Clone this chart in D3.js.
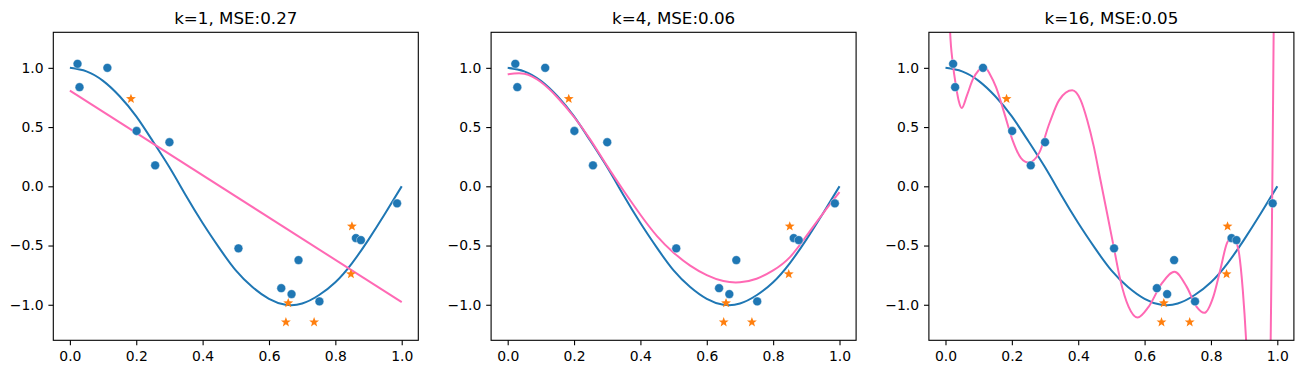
<!DOCTYPE html>
<meta charset="utf-8">
<style>

body {
  margin: 0;
  background: #fff;
}

.axis text {
  font: 13.9px "DejaVu Sans", sans-serif;
  fill: #000;
}

.axis line {
  stroke: #000;
  stroke-width: 1.1px;
}

.axis path {
  display: none;
}

.frame {
  fill: none;
  stroke: #000;
  stroke-width: 1.1px;
}

.title {
  font: 16.7px "DejaVu Sans", sans-serif;
  fill: #000;
}

.truth {
  fill: none;
  stroke: #1f77b4;
  stroke-width: 2px;
}

.fit {
  fill: none;
  stroke: #ff69b4;
  stroke-width: 2px;
}

</style>
<body>

<script src="https://d3js.org/d3.v7.min.js"></script>
<script>

// training points (blue dots)
var trainX = [0.023, 0.029, 0.113, 0.201, 0.257, 0.300, 0.508, 0.637, 0.668, 0.689, 0.752, 0.862, 0.877, 0.986];
var trainY = [1.034, 0.837, 1.000, 0.467, 0.177, 0.372, -0.524, -0.860, -0.910, -0.623, -0.972, -0.437, -0.454, -0.144];

// test points (orange stars)
var testX = [0.184, 0.850, 0.847, 0.658, 0.651, 0.736];
var testY = [0.738, -0.338, -0.741, -0.986, -1.147, -1.147];

// the true curve, read every 0.05
var gridX = [0, 0.05, 0.1, 0.15, 0.2, 0.25, 0.3, 0.35, 0.4, 0.45, 0.5, 0.55, 0.6, 0.65, 0.7, 0.75, 0.8, 0.85, 0.9, 0.95, 1];
var trueY = [1.00, 0.97, 0.89, 0.76, 0.59, 0.38, 0.16, -0.08, -0.31, -0.52, -0.71, -0.85, -0.95, -1.00, -0.99, -0.92, -0.81, -0.65, -0.45, -0.23, 0.00];

// k=1 fit (straight line)
var fit1X = [0, 1];
var fit1Y = [0.808, -0.978];

// k=4 fit, same grid as the true curve
var fit4Y = [0.945, 0.95, 0.88, 0.75, 0.585, 0.39, 0.17, -0.04, -0.24, -0.42, -0.56, -0.67, -0.75, -0.80, -0.81, -0.78, -0.71, -0.60, -0.42, -0.23, -0.05];

// k=16 fit, read at its turning points
var fit16X = [0, 0.008, 0.014, 0.022, 0.032, 0.040, 0.049, 0.065, 0.082, 0.100, 0.117, 0.135, 0.152, 0.177, 0.202, 0.227, 0.250, 0.282, 0.313, 0.343, 0.382, 0.407, 0.427, 0.447, 0.467, 0.487, 0.507, 0.527, 0.552, 0.579, 0.612, 0.652, 0.690, 0.727, 0.757, 0.780, 0.807, 0.828, 0.848, 0.866, 0.883, 0.896, 0.906, 0.920, 0.950, 0.970, 0.980, 0.983, 0.986, 0.989, 1.0];
var fit16Y = [2.60, 1.80, 1.30, 1.04, 0.84, 0.72, 0.66, 0.77, 0.90, 0.98, 1.01, 0.94, 0.84, 0.62, 0.39, 0.24, 0.20, 0.28, 0.53, 0.73, 0.81, 0.73, 0.56, 0.335, 0.053, -0.228, -0.511, -0.792, -1.018, -1.108, -1.018, -0.82, -0.722, -0.849, -1.018, -1.068, -0.933, -0.707, -0.482, -0.42, -0.539, -0.877, -1.30, -2.2, -2.8, -2.2, -1.30, -0.54, 0.31, 1.30, 4.0];

var titles = ["k=1, MSE:0.27", "k=4, MSE:0.06", "k=16, MSE:0.05"];
var xTicks = [0, 0.2, 0.4, 0.6, 0.8, 1.0];
var yTicks = [-1, -0.5, 0, 0.5, 1];

function zip(xs, ys) {
  return xs.map(function(d, i) { return [d, ys[i]]; });
}

var fits = [
  { pts: zip(fit1X, fit1Y), curve: d3.curveLinear },
  { pts: zip(gridX, fit4Y), curve: d3.curveNatural },
  { pts: zip(fit16X, fit16Y), curve: d3.curveMonotoneX }
];

// figure layout
var W = 1303, H = 374;
var panelLeft = [53.3, 491.1, 928.9],
    panelW = 365,
    panelTop = 32.3,
    panelH = 308;

var svg = d3.select("body")
  .append("svg")
    .attr("width", W)
    .attr("height", H);

var x = d3.scaleLinear().domain([-0.05, 1.05]).range([0, panelW]);
var y = d3.scaleLinear().domain([-1.3, 1.3]).range([panelH, 0]);

var line = d3.line()
    .x(function(d) { return x(d[0]); })
    .y(function(d) { return y(d[1]); });

// 5 point star like matplotlib's '*'
function starPath(R) {
  var r = R * 0.42, p = [];
  for (var i = 0; i < 10; i++) {
    var a = Math.PI / 5 * i - Math.PI / 2, rr = i % 2 ? r : R;
    p.push([rr * Math.cos(a), rr * Math.sin(a)]);
  }
  return "M" + p.join("L") + "Z";
}

titles.forEach(function(t, k) {
  var g = svg.append("g")
      .attr("transform", "translate(" + panelLeft[k] + "," + panelTop + ")");

  g.append("clipPath")
      .attr("id", "clip" + k)
    .append("rect")
      .attr("width", panelW)
      .attr("height", panelH);

  // axes
  g.append("g")
      .attr("class", "axis")
      .attr("transform", "translate(0," + panelH + ")")
      .call(d3.axisBottom(x).tickValues(xTicks).tickFormat(d3.format(".1f"))
        .tickSize(4.9).tickPadding(6.3));

  g.append("g")
      .attr("class", "axis")
      .call(d3.axisLeft(y).tickValues(yTicks).tickFormat(d3.format(".1f"))
        .tickSize(4.9).tickPadding(4.9));

  var plot = g.append("g").attr("clip-path", "url(#clip" + k + ")");

  // true function
  plot.append("path")
      .datum(zip(gridX, trueY))
      .attr("class", "truth")
      .attr("d", line.curve(d3.curveNatural));

  // fitted polynomial
  plot.append("path")
      .datum(fits[k].pts)
      .attr("class", "fit")
      .attr("d", line.curve(fits[k].curve));

  // train points
  plot.selectAll("circle")
      .data(zip(trainX, trainY))
    .enter().append("circle")
      .attr("r", 4.4)
      .attr("cx", function(d) { return x(d[0]); })
      .attr("cy", function(d) { return y(d[1]); })
      .style("fill", "#1f77b4")
      .style("stroke", "#fff")
      .style("stroke-width", 0.4);

  // test points
  plot.selectAll(".star")
      .data(zip(testX, testY))
    .enter().append("path")
      .attr("class", "star")
      .attr("d", starPath(5.2))
      .attr("transform", function(d) { return "translate(" + x(d[0]) + "," + y(d[1]) + ")"; })
      .style("fill", "#ff7f0e");

  g.append("rect")
      .attr("class", "frame")
      .attr("width", panelW)
      .attr("height", panelH);

  g.append("text")
      .attr("class", "title")
      .attr("x", panelW / 2)
      .attr("y", -8.3)
      .attr("text-anchor", "middle")
      .text(t);
});

</script>
</body>
